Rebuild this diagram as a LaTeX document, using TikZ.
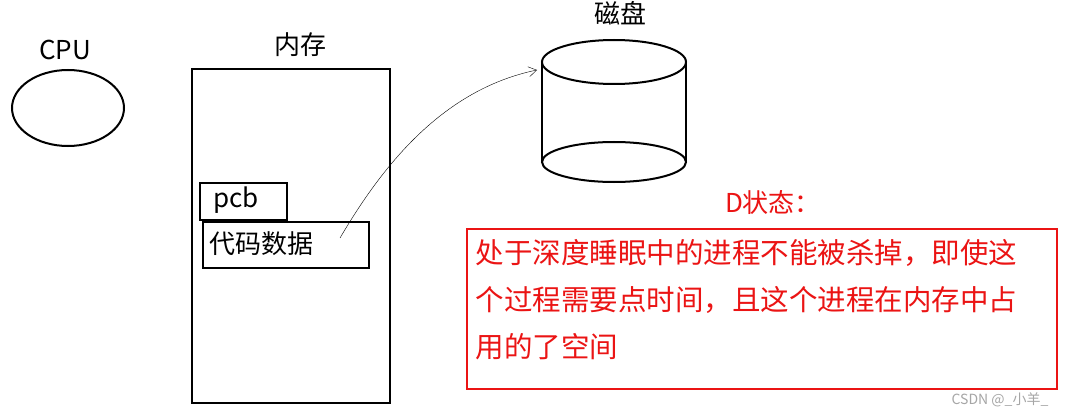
\documentclass[tikz,border=0pt]{standalone}
\usepackage{fontspec}
\setmainfont{Noto Sans CJK SC}
\usetikzlibrary{arrows.meta}
\definecolor{dred}{RGB}{235,20,20}
\begin{document}
\begin{tikzpicture}[x=1pt,y=-1pt,
  lbl/.style={font=\fontsize{26}{30}\selectfont},
  ln/.style={line width=2pt},
  rt/.style={font=\fontsize{28.5}{47}\selectfont,text=dred,align=left}]
\useasboundingbox[fill=white] (0,0) rectangle (1076,417);
\node[lbl] (cpul) at (65,50) {CPU};
\draw[ln] (68,108) ellipse [x radius=56,y radius=38];
\node[lbl] (meml) at (300,45) {内存};
\draw[ln] (192,69) rectangle (390,403);
\draw[ln] (200,183) rectangle (287,220);
\node[lbl,anchor=west] (pcb) at (210,200) {pcb};
\draw[ln] (203,222) rectangle (369,268);
\node[lbl,anchor=west] (code) at (206,244) {代码数据};
\coordinate (cs) at (340,238);
\node[lbl] (diskl) at (620,13) {磁盘};
\draw[ln] (542,62) -- (542,162) (686,62) -- (686,162);
\draw[ln] (614,62) ellipse [x radius=72,y radius=22];
\draw[ln] (614,162) ellipse [x radius=72,y radius=20];
\coordinate (ce) at (537,70);
\draw[-{Straight Barb[length=8pt,width=10pt]}] (cs) .. controls (380,170) and (440,90) .. (ce);
\node[lbl,text=dred] (dst) at (773,203) {D状态：};
\draw[dred,line width=1.5pt] (467,229) rectangle (1057,389);
\node[rt,anchor=north west] (txt) at (472,236) {处于深度睡眠中的进程不能被杀掉，即使这\\个过程需要点时间，且这个进程在内存中占\\用的了空间};
\node[text=gray!70,font=\fontsize{14}{16}\selectfont] (wm) at (1000,400) {CSDN @\_小羊\_};
\end{tikzpicture}
\end{document}
